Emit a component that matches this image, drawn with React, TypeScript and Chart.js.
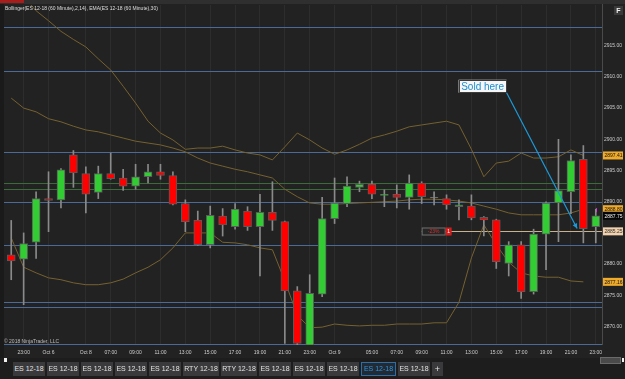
import React, { useEffect, useRef } from "react";
import { Chart, registerables } from "chart.js";

Chart.register(...registerables);

const FONT = "'Liberation Sans', Arial, sans-serif";

const timeLabels = [
  "", "23:00", "", "Oct 6", "", "", "Oct 8", "", "07:00", "",
  "09:00", "", "11:00", "", "13:00", "", "15:00", "", "17:00", "",
  "19:00", "", "21:00", "", "23:00", "", "Oct 9", "", "", "05:00",
  "", "07:00", "", "09:00", "", "11:00", "", "13:00", "", "15:00",
  "", "17:00", "", "19:00", "", "21:00", "", "23:00",
];

const opens = [
  2881.5, 2880.8, 2883.5, 2890.5, 2890.3, 2897.5, 2894.5, 2891.5, 2894.5, 2893.8,
  2892.5, 2894.0, 2894.8, 2894.2, 2889.7, 2887.0, 2883.1, 2887.7, 2886.0, 2888.5,
  2886.0, 2888.3, 2886.8, 2875.7, 2867.0, 2875.2, 2887.3, 2889.7, 2892.3, 2892.8,
  2891.0, 2891.2, 2890.7, 2893.0, 2890.6, 2890.5, 2889.2, 2889.3, 2887.5, 2887.1,
  2880.1, 2883.1, 2875.6, 2884.8, 2889.8, 2891.6, 2896.8, 2886.0,
];
const highs = [
  2887.0, 2885.0, 2891.6, 2894.8, 2895.3, 2898.2, 2895.6, 2895.7, 2897.8, 2895.2,
  2896.0, 2896.0, 2896.0, 2894.8, 2890.3, 2888.5, 2889.3, 2888.9, 2889.7, 2889.2,
  2891.2, 2893.2, 2886.9, 2876.4, 2878.3, 2890.7, 2893.8, 2894.0, 2893.3, 2893.3,
  2891.9, 2892.7, 2894.3, 2893.2, 2891.6, 2891.1, 2890.3, 2891.1, 2887.6, 2887.2,
  2883.6, 2883.6, 2885.6, 2890.0, 2900.0, 2897.5, 2899.0, 2888.8,
];
const lows = [
  2877.5, 2873.5, 2880.9, 2885.2, 2889.0, 2892.3, 2888.2, 2890.5, 2893.6, 2891.8,
  2892.0, 2893.0, 2893.6, 2889.5, 2885.2, 2883.0, 2882.6, 2884.5, 2885.6, 2885.4,
  2878.1, 2885.4, 2867.3, 2867.0, 2866.9, 2874.8, 2886.5, 2889.2, 2891.6, 2890.5,
  2889.2, 2889.0, 2888.8, 2889.7, 2889.5, 2888.8, 2887.1, 2887.1, 2884.5, 2879.3,
  2878.1, 2874.5, 2875.2, 2879.1, 2883.6, 2888.1, 2883.4, 2883.4,
];
const closes = [
  2880.5, 2883.3, 2890.5, 2890.2, 2895.1, 2894.6, 2891.2, 2894.5, 2893.7, 2892.5,
  2894.0, 2894.8, 2894.2, 2889.6, 2886.8, 2883.1, 2887.8, 2886.3, 2888.8, 2886.0,
  2888.3, 2887.0, 2875.7, 2867.3, 2875.3, 2887.3, 2889.8, 2892.5, 2892.8, 2891.2,
  2891.2, 2890.7, 2893.0, 2890.8, 2890.6, 2889.5, 2889.5, 2887.4, 2887.1, 2880.4,
  2883.1, 2875.6, 2884.8, 2889.8, 2891.8, 2896.6, 2885.7, 2887.75,
];

const upperBand = [
  2925.5, 2922.8, 2920.6, 2919.0, 2917.3, 2916.0, 2914.8, 2912.9, 2911.1, 2908.5,
  2905.8, 2902.9, 2901.0, 2899.9, 2898.4, 2898.6, 2898.6, 2898.9, 2898.3, 2897.8,
  2897.5, 2896.7, 2898.8, 2901.0, 2899.9, 2898.6, 2897.6, 2898.3, 2899.2, 2900.2,
  2900.7, 2901.3, 2902.0, 2902.3, 2902.6, 2902.9, 2902.3, 2898.4, 2894.0, 2896.2,
  2896.5, 2897.8, 2897.0, 2897.0, 2897.2, 2898.3, 2897.41, null,
];
const emaLine = [
  2906.6, 2905.0, 2904.4, 2903.3, 2902.8, 2902.1, 2901.5, 2901.2, 2900.7, 2900.2,
  2899.7, 2899.4, 2899.1, 2898.6, 2898.0, 2897.0, 2896.2, 2895.7, 2895.2, 2894.8,
  2894.3, 2893.8, 2892.0, 2890.8, 2889.8, 2889.6, 2889.6, 2889.7, 2889.8, 2889.9,
  2890.0, 2890.1, 2890.3, 2890.4, 2890.4, 2890.3, 2890.1, 2889.8, 2889.3, 2888.8,
  2888.2, 2887.9, 2887.9, 2887.9, 2887.9, 2888.2, 2888.8, null,
];
const lowerBand = [
  2884.2, 2879.5, 2878.6, 2877.8, 2877.5, 2877.0, 2876.7, 2876.7, 2877.0, 2877.6,
  2878.6, 2879.5, 2880.7, 2882.6, 2885.0, 2885.0, 2885.0, 2883.5, 2883.4, 2883.1,
  2882.6, 2882.3, 2877.3, 2871.8, 2869.8, 2869.9, 2870.4, 2870.2, 2870.1, 2870.2,
  2870.2, 2870.4, 2870.4, 2870.4, 2870.6, 2870.6, 2873.9, 2881.0, 2886.3, 2883.1,
  2880.3, 2878.6, 2878.1, 2877.9, 2877.9, 2877.3, 2877.16, null,
];

const yTicks = [2870, 2875, 2880, 2885, 2890, 2895, 2900, 2905, 2910, 2915];
const yMin = 2867.04;
const yMax = 2921.52;

const blueLevels = [2918.0, 2911.0, 2897.9, 2889.9, 2883.0, 2874.0, 2873.1, 2867.2];
const greenLevels = [2893.0, 2892.0];

const tagValues = [2897.41, 2877.16, 2888.8, 2887.75, 2885.25];
const tagLabels = ["2897.41", "2877.16", "2888.80", "2887.75", "2885.25"];
const tagFills = ["#efab2c", "#efab2c", "#efab2c", "#050505", "#f2d1ad"];
const tagInks = ["#111", "#111", "#111", "#f0f0f0", "#333"];

const orderPrice = 2885.25;
const orderIndex = 33;
const orderText = "-23%";
const orderQty = "1";

const noteText = "Sold here";
const noteIndex = 37.9;
const notePrice = 2908.5;
const arrowIndex = 45.5;
const arrowPrice = 2885.7;

const titleText = "Bollinger(ES 12-18 (60 Minute),2,14), EMA(ES 12-18 (60 Minute),30)";
const copyrightText = "\u00A9 2018 NinjaTrader, LLC";

const tabNames = [
  "ES 12-18", "ES 12-18", "ES 12-18", "ES 12-18", "ES 12-18",
  "RTY 12-18", "RTY 12-18", "ES 12-18", "ES 12-18", "ES 12-18",
  "ES 12-18", "ES 12-18",
];
const selectedTab = 10;

const RED = "#ff0000";
const GREEN = "#32cd32";
const IND = "#76612f";

const decorPlugin = {
  id: "decor",
  beforeDraw(chart: any) {
    const { ctx, width, height } = chart;
    ctx.save();
    ctx.fillStyle = "#222222";
    ctx.fillRect(0, 0, width, height);
    ctx.fillStyle = "#2f2f2f";
    ctx.fillRect(0, 0, width, 4);
    ctx.fillStyle = "#a81c1c";
    ctx.fillRect(0, 0, 24, 3);
    ctx.fillStyle = "#1a1a1a";
    ctx.fillRect(0, 4, 4, height - 4);
    ctx.restore();
  },
  beforeDatasetsDraw(chart: any) {
    const { ctx, chartArea: a } = chart;
    const y = chart.scales.y;
    const x = chart.scales.x;
    ctx.save();
    ctx.lineWidth = 1;
    const hline = (v: number, color: string, x0: number) => {
      const py = Math.round(y.getPixelForValue(v)) + 0.5;
      ctx.strokeStyle = color;
      ctx.beginPath();
      ctx.moveTo(x0, py);
      ctx.lineTo(a.right, py);
      ctx.stroke();
    };
    greenLevels.forEach((v) => hline(v, "#3a6b3a", a.left - 1));
    blueLevels.forEach((v) => hline(v, "#4c6a98", a.left - 1));
    hline(orderPrice, "#c9b18c", x.getPixelForValue(orderIndex));
    ctx.restore();
  },
  afterDatasetsDraw(chart: any) {
    const { ctx, chartArea: a } = chart;
    const y = chart.scales.y;
    const x = chart.scales.x;
    ctx.save();

    ctx.strokeStyle = "#4a4a4a";
    ctx.lineWidth = 1;
    ctx.beginPath();
    ctx.moveTo(Math.round(a.right) + 0.5, 4);
    ctx.lineTo(Math.round(a.right) + 0.5, a.bottom);
    ctx.stroke();

    ctx.font = `5px ${FONT}`;
    ctx.fillStyle = "#dedede";
    ctx.textBaseline = "middle";
    ctx.textAlign = "left";
    ctx.fillText(titleText, 5, 8.5);

    ctx.fillStyle = "#bdbdbd";
    ctx.fillText(copyrightText, 4, 342);

    // order marker
    const ox = x.getPixelForValue(orderIndex);
    const oy = Math.round(y.getPixelForValue(orderPrice)) + 0.5;
    ctx.fillStyle = "#262626";
    ctx.fillRect(ox, oy - 4, 24, 8);
    ctx.strokeStyle = "#6e6e6e";
    ctx.strokeRect(ox + 0.5, oy - 3.5, 23, 7);
    ctx.fillStyle = "#d83030";
    ctx.textAlign = "center";
    ctx.fillText(orderText, ox + 12, oy + 0.5);
    ctx.fillStyle = "#d41c1c";
    ctx.fillRect(ox + 24, oy - 4, 6, 8);
    ctx.fillStyle = "#ffffff";
    ctx.fillText(orderQty, ox + 27, oy + 0.5);

    // last bar tick
    const lx = x.getPixelForValue(47);
    const hy = y.getPixelForValue(highs[47]);
    ctx.strokeStyle = "#d040d0";
    ctx.beginPath();
    ctx.moveTo(Math.round(lx) + 0.5, hy - 1);
    ctx.lineTo(Math.round(lx) + 0.5, hy + 3);
    ctx.stroke();

    // Sold here note + arrow
    const cx = x.getPixelForValue(noteIndex);
    const cy = y.getPixelForValue(notePrice);
    const bw = 48, bh = 13;
    const bx = cx - bw / 2, by = cy - bh / 2;
    const tx = x.getPixelForValue(arrowIndex);
    const ty = y.getPixelForValue(arrowPrice);
    const sx = bx + bw, sy = by + bh;
    ctx.strokeStyle = "#1c9ad8";
    ctx.lineWidth = 1.2;
    ctx.beginPath();
    ctx.moveTo(sx, sy);
    ctx.lineTo(tx, ty);
    ctx.stroke();
    const ang = Math.atan2(ty - sy, tx - sx);
    ctx.fillStyle = "#1c9ad8";
    ctx.beginPath();
    ctx.moveTo(tx, ty);
    ctx.lineTo(tx - 5 * Math.cos(ang) + 2.5 * Math.sin(ang), ty - 5 * Math.sin(ang) - 2.5 * Math.cos(ang));
    ctx.lineTo(tx - 5 * Math.cos(ang) - 2.5 * Math.sin(ang), ty - 5 * Math.sin(ang) + 2.5 * Math.cos(ang));
    ctx.closePath();
    ctx.fill();

    ctx.fillStyle = "#f6f6f6";
    ctx.fillRect(bx, by, bw, bh);
    ctx.strokeStyle = "#3c3c3c";
    ctx.lineWidth = 1;
    ctx.strokeRect(Math.round(bx) + 0.5, Math.round(by) + 0.5, bw - 1, bh - 1);
    ctx.fillStyle = "#1a8fd4";
    ctx.font = `10px ${FONT}`;
    ctx.textAlign = "center";
    ctx.textBaseline = "middle";
    ctx.fillText(noteText, cx, cy + 0.5);

    // price tags on axis
    ctx.font = `5px ${FONT}`;
    ctx.textAlign = "left";
    tagValues.forEach((v, i) => {
      const py = y.getPixelForValue(v);
      ctx.fillStyle = tagFills[i];
      ctx.fillRect(a.right + 1, py - 4, 20, 8);
      ctx.fillStyle = tagInks[i];
      ctx.fillText(tagLabels[i], a.right + 2.5, py + 0.5);
    });

    // F button
    ctx.fillStyle = "#3a3a3a";
    ctx.fillRect(614, 6, 9, 9);
    ctx.fillStyle = "#f0f0f0";
    ctx.font = `bold 7px ${FONT}`;
    ctx.textAlign = "center";
    ctx.fillText("F", 618.5, 10.8);

    ctx.restore();
  },
};

export default function App() {
  const ref = useRef<HTMLCanvasElement | null>(null);

  useEffect(() => {
    if (!ref.current) return;
    Chart.defaults.font.family = FONT;
    const bodyColors = opens.map((o, i) =>
      closes[i] > o ? GREEN : closes[i] < o ? RED : "#9a9a9a"
    );
    const chart = new Chart(ref.current, {
      type: "bar",
      data: {
        labels: timeLabels,
        datasets: [
          {
            type: "bar",
            label: "body",
            data: opens.map((o, i) => [o, closes[i]]) as any,
            backgroundColor: bodyColors,
            borderColor: "#5a5a5a",
            borderWidth: 1,
            borderSkipped: false,
            barThickness: 8,
            grouped: false,
            minBarLength: 1,
            order: 1,
          } as any,
          {
            type: "bar",
            label: "wick",
            data: lows.map((l, i) => [l, highs[i]]) as any,
            backgroundColor: "#8a8a8a",
            borderWidth: 0,
            barThickness: 1,
            grouped: false,
            order: 2,
          } as any,
          {
            type: "line",
            label: "upper",
            data: upperBand as any,
            borderColor: IND,
            borderWidth: 1,
            pointRadius: 0,
            tension: 0,
            order: 3,
          } as any,
          {
            type: "line",
            label: "ema",
            data: emaLine as any,
            borderColor: IND,
            borderWidth: 1,
            pointRadius: 0,
            tension: 0,
            order: 3,
          } as any,
          {
            type: "line",
            label: "lower",
            data: lowerBand as any,
            borderColor: IND,
            borderWidth: 1,
            pointRadius: 0,
            tension: 0,
            order: 3,
          } as any,
        ],
      },
      options: {
        animation: false,
        responsive: false,
        devicePixelRatio: 1,
        events: [],
        layout: { padding: { left: 5, top: 5, right: 0, bottom: 0 } },
        plugins: { legend: { display: false }, tooltip: { enabled: false } },
        scales: {
          x: {
            grid: {
              display: true,
              offset: false,
              drawTicks: false,
              color: (c: any) => (timeLabels[c.index] ? "rgba(255,255,255,0.05)" : "rgba(0,0,0,0)"),
            },
            border: { display: false },
            ticks: {
              autoSkip: false,
              maxRotation: 0,
              minRotation: 0,
              padding: 5,
              color: "#cfcfcf",
              font: { family: FONT, size: 5 },
              callback: (_v: any, i: number) => timeLabels[i],
            },
            afterFit: (s: any) => {
              s.height = 13;
            },
          },
          y: {
            position: "right",
            min: yMin,
            max: yMax,
            grid: { display: false, drawTicks: false },
            border: { display: false },
            afterBuildTicks: (s: any) => {
              s.ticks = yTicks.map((v) => ({ value: v }));
            },
            ticks: {
              padding: 2,
              color: "#cccccc",
              font: { family: FONT, size: 5 },
              callback: (v: any) => Number(v).toFixed(2),
            },
            afterFit: (s: any) => {
              s.width = 23;
            },
          },
        },
      } as any,
      plugins: [decorPlugin],
    });
    return () => chart.destroy();
  }, []);

  let left = 13;
  const tabs = tabNames.map((name, i) => {
    const w = name.startsWith("RTY") ? 36 : i === selectedTab ? 35 : 32;
    const sel = i === selectedTab;
    const el = (
      <div
        key={i}
        style={{
          position: "absolute",
          left,
          top: 362,
          width: w,
          height: 14,
          boxSizing: "border-box",
          background: sel ? "#222a33" : "#3a3a3c",
          border: sel ? "1px solid #2d6ea6" : "none",
          color: sel ? "#2f95dd" : "#e2e2e2",
          fontSize: 7,
          lineHeight: sel ? "12px" : "14px",
          textAlign: "center",
          whiteSpace: "nowrap",
        }}
      >
        {name}
      </div>
    );
    left += w + 2;
    return el;
  });

  return (
    <div
      style={{
        position: "fixed",
        left: 0,
        top: 0,
        width: 625,
        height: 379,
        background: "#1d1d1d",
        overflow: "hidden",
        fontFamily: FONT,
      }}
    >
      <canvas ref={ref} width={625} height={358} style={{ display: "block" }} />
      <div style={{ position: "absolute", left: 4, top: 358, width: 3, height: 4, background: "#f0f0f0" }} />
      <div style={{ position: "absolute", left: 600, top: 357, width: 19, height: 5, background: "#4a4a4a", border: "1px solid #6a6a6a" }} />
      <div style={{ position: "absolute", left: 622, top: 358, width: 2, height: 4, background: "#f0f0f0" }} />
      {tabs}
      <div
        style={{
          position: "absolute",
          left: left,
          top: 362,
          width: 11,
          height: 14,
          background: "#3a3a3c",
          color: "#e2e2e2",
          fontSize: 9,
          lineHeight: "14px",
          textAlign: "center",
        }}
      >
        +
      </div>
    </div>
  );
}
